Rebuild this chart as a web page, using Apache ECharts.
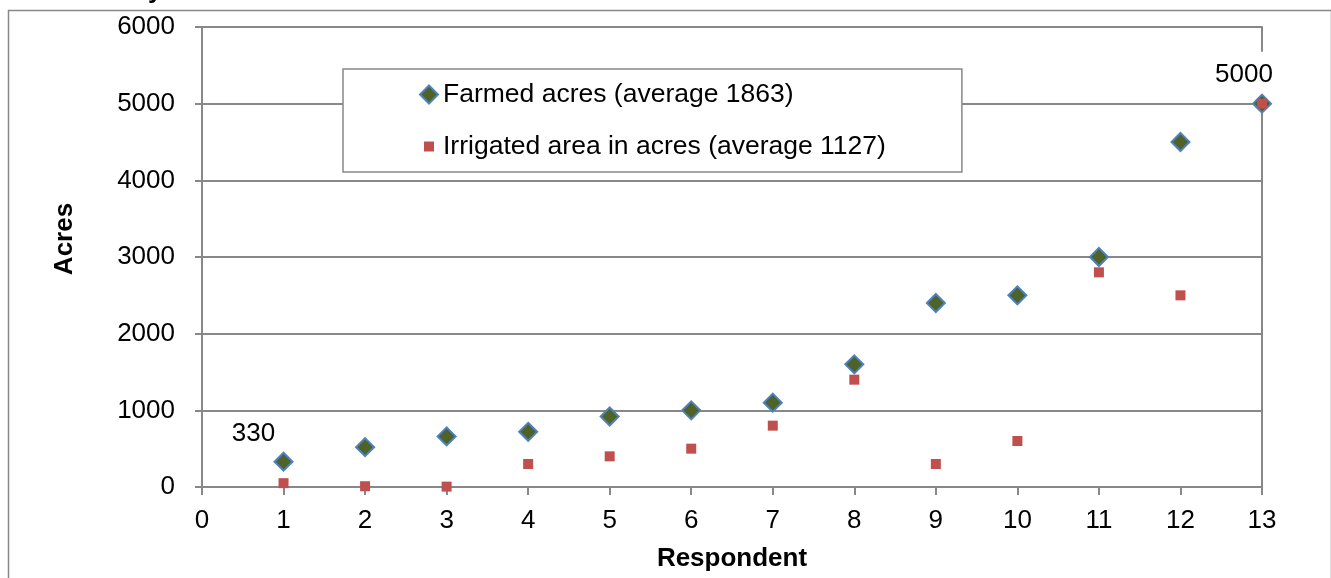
<!DOCTYPE html>
<html>
<head>
<meta charset="utf-8">
<script src="https://cdn.jsdelivr.net/npm/echarts@6/dist/echarts.min.js"></script>
<style>
html,body{margin:0;padding:0;background:#fff;}
#chart{width:1331px;height:578px;}
</style>
</head>
<body>
<div id="chart"></div>
<script>
var respondents = [1,2,3,4,5,6,7,8,9,10,11,12,13];
var farmedAcres = [330,520,660,720,920,1000,1100,1600,2400,2500,3000,4500,5000];
var irrigatedAcres = [50,10,5,300,400,500,800,1400,300,600,2800,2500,5000];
var xTicks = [0,1,2,3,4,5,6,7,8,9,10,11,12,13];
var yTicks = [0,1000,2000,3000,4000,5000,6000];
var farmedName = 'Farmed acres (average 1863)';
var irrigatedName = 'Irrigated area in acres (average 1127)';
var labelledPoints = {1: '330', 13: '5000'};

var FONT = '"Liberation Sans", Arial, sans-serif';
var GRAY = '#888888';

function pairs(xs, ys){ return xs.map(function(x,i){ return [x, ys[i]]; }); }

var farmedData = pairs(respondents, farmedAcres).map(function(p){
  var d = {value: p};
  if (p[0] === 1) {
    d.label = {show: true, position: 'top', distance: 5, offset: [-30, 0], formatter: labelledPoints[1],
      fontSize: 26, fontFamily: FONT, color: '#000'};
  } else if (p[0] === 13) {
    d.label = {show: true, position: 'top', distance: 0, offset: [-18, 0], formatter: labelledPoints[13],
      fontSize: 26, fontFamily: FONT, color: '#000', backgroundColor: '#fff', padding: [10, 6, 6, 6], lineHeight: 26};
  }
  return d;
});

var chart = echarts.init(document.getElementById('chart'), null, {renderer: 'canvas'});
chart.setOption({
  animation: false,
  backgroundColor: '#fff',
  textStyle: {fontFamily: FONT},
  graphic: [
    {type: 'rect', left: 6, top: 8, shape: {width: 1323, height: 600}, style: {fill: 'none', stroke: GRAY, lineWidth: 1.5}, z: -10, silent: true},
    {type: 'text', left: 148, top: -22, style: {text: 'y', font: 'bold 26px ' + FONT, fill: '#000'}, silent: true}
  ],
  grid: {left: 202, right: 69, top: 27, bottom: 91, containLabel: false},
  legend: {
    orient: 'vertical',
    left: 343, top: 69,
    padding: [12, 76, 12, 76],
    itemGap: 25,
    itemWidth: 18, itemHeight: 18,
    backgroundColor: '#fff',
    borderColor: GRAY, borderWidth: 1.5,
    textStyle: {fontSize: 26.5, fontFamily: FONT, color: '#000', lineHeight: 27},
    data: [
      {name: farmedName},
      {name: irrigatedName, icon: 'path://M0,0M18,18M4,4h10v10h-10z'}
    ]
  },
  xAxis: {
    type: 'value', min: xTicks[0], max: xTicks[xTicks.length-1], interval: 1,
    name: 'Respondent', nameLocation: 'middle', nameGap: 59,
    nameTextStyle: {fontSize: 26, fontWeight: 'bold', color: '#000', fontFamily: FONT},
    axisLine: {show: true, onZero: false, lineStyle: {color: GRAY, width: 2}},
    axisTick: {show: true, inside: false, length: 8, lineStyle: {color: GRAY, width: 2}},
    axisLabel: {fontSize: 26, color: '#000', margin: 21, fontFamily: FONT, formatter: function(v){ return String(v); }},
    splitLine: {show: false}
  },
  yAxis: [{
    type: 'value', min: yTicks[0], max: yTicks[yTicks.length-1], interval: 1000,
    name: 'Acres', nameLocation: 'middle', nameGap: 124, nameRotate: 90,
    nameTextStyle: {fontSize: 26, fontWeight: 'bold', color: '#000', fontFamily: FONT, padding: [0, 0, 0, 36]},
    axisLine: {show: true, lineStyle: {color: GRAY, width: 2}},
    axisTick: {show: true, inside: false, length: 7, lineStyle: {color: GRAY, width: 2}},
    axisLabel: {fontSize: 26, color: '#000', margin: 27, fontFamily: FONT, formatter: function(v){ return String(v); }},
    splitLine: {show: true, lineStyle: {color: GRAY, width: 2}}
  }, {
    type: 'value', min: yTicks[0], max: yTicks[yTicks.length-1], interval: 1000, position: 'right',
    axisLine: {show: true, lineStyle: {color: GRAY, width: 2}},
    axisTick: {show: false}, axisLabel: {show: false}, splitLine: {show: false}
  }],
  series: [
    {
      name: farmedName, type: 'scatter', symbol: 'diamond', symbolSize: 18,
      itemStyle: {color: '#4F6228', borderColor: '#4F81BD', borderWidth: 2, opacity: 1},
      data: farmedData, z: 3
    },
    {
      name: irrigatedName, type: 'scatter', symbol: 'rect', symbolSize: 10,
      itemStyle: {color: '#C0504D', opacity: 1},
      data: pairs(respondents, irrigatedAcres), z: 4
    }
  ]
});
</script>
</body>
</html>
